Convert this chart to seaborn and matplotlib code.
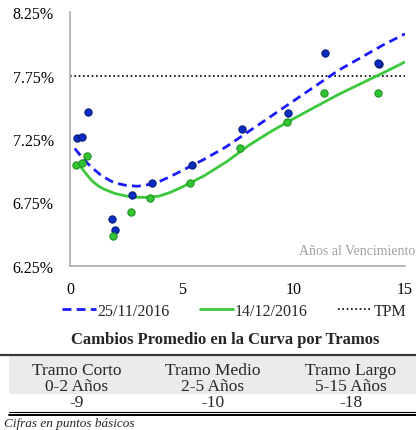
import matplotlib
matplotlib.use("Agg")
import matplotlib.pyplot as plt
import seaborn as sns
import pandas as pd
from matplotlib.lines import Line2D
from matplotlib.patches import Rectangle

# ---------------- data ----------------
pts_x_nov = [0.29, 0.54, 0.78, 1.88, 2.0, 2.78, 3.65, 5.47, 7.68, 9.77, 11.42, 13.84, 13.80]
pts_y_nov = [7.258, 7.263, 7.46, 6.616, 6.529, 6.808, 6.903, 7.042, 7.329, 7.453, 7.93, 7.844, 7.850]
pts_x_dec = [0.24, 0.51, 0.73, 1.93, 2.72, 3.59, 5.38, 7.61, 9.70, 11.39, 13.78]
pts_y_dec = [7.047, 7.061, 7.118, 6.487, 6.671, 6.784, 6.903, 7.177, 7.387, 7.61, 7.61]

curve_x_nov = [0.2, 0.5, 0.8, 1.0, 1.4, 1.75, 2.0, 2.5, 3.0, 3.5, 4.0, 4.5, 5.0, 5.5, 6.0,
               7.0, 8.0, 9.0, 10.0, 11.0, 12.0, 13.0, 14.0, 15.0]
curve_y_nov = [7.175, 7.11, 7.053, 7.02, 6.96, 6.925, 6.903, 6.884, 6.877, 6.89, 6.915, 6.955,
               7.0, 7.045, 7.09, 7.19, 7.31, 7.43, 7.55, 7.67, 7.79, 7.89, 7.99, 8.08]
curve_x_dec = [0.4, 0.6, 0.8, 1.0, 1.25, 1.5, 2.0, 2.5, 3.0, 3.5, 4.0, 4.5, 5.0, 5.5, 6.0,
               7.0, 8.0, 9.0, 10.0, 11.0, 12.0, 13.0, 14.0, 15.0]
curve_y_dec = [7.045, 7.0, 6.955, 6.915, 6.88, 6.855, 6.82, 6.80, 6.79, 6.789, 6.80, 6.83,
               6.87, 6.915, 6.96, 7.07, 7.2, 7.31, 7.41, 7.505, 7.6, 7.685, 7.77, 7.858]
tpm = 7.75

series_labels = ["25/11/2016", "14/12/2016", "TPM"]
y_ticks = [6.25, 6.75, 7.25, 7.75, 8.25]
x_ticks = [0, 5, 10, 15]
axis_note = "Años al Vencimiento"

table_title = "Cambios Promedio en la Curva por Tramos"
table_head1 = ["Tramo Corto", "Tramo Medio", "Tramo Largo"]
table_head2 = ["0-2 Años", "2-5 Años", "5-15 Años"]
table_vals = ["-9", "-10", "-18"]
footnote = "Cifras en puntos básicos"

# ---------------- style ----------------
sns.set_style("white")
plt.rcParams['font.family'] = ['Liberation Serif', 'DejaVu Serif']

BLUE_LINE = "#1a1aff"
GREEN_LINE = "#3cc83c"
BLUE_PT = "#0a2cc0"
GREEN_PT = "#33c433"
GRAY = "#a6a6a6"

fig = plt.figure(figsize=(4.16, 4.31), dpi=100)
ax = fig.add_axes([70.3 / 416, 1 - 266.7 / 431, (405 - 70.3) / 416, (266.7 - 13.3) / 431])

df_nov = pd.DataFrame({"x": curve_x_nov, "y": curve_y_nov})
df_dec = pd.DataFrame({"x": curve_x_dec, "y": curve_y_dec})
sns.lineplot(data=df_nov, x="x", y="y", ax=ax, color=BLUE_LINE, lw=2.0,
             linestyle=(0, (3.2, 1.9)), zorder=3)
sns.lineplot(data=df_dec, x="x", y="y", ax=ax, color=GREEN_LINE, lw=2.0, zorder=3)
ax.axhline(tpm, color="black", lw=1.2, linestyle=(0, (1, 1.6)), zorder=2)

sns.scatterplot(x=pts_x_nov, y=pts_y_nov, ax=ax, color=BLUE_PT, edgecolor="#001a70",
                linewidth=0.7, s=28, zorder=4)
sns.scatterplot(x=pts_x_dec, y=pts_y_dec, ax=ax, color=GREEN_PT, edgecolor="#1a8a1a",
                linewidth=0.7, s=28, zorder=4)

ax.set_xlim(0, 15)
ax.set_ylim(6.25, 8.25)
ax.set_xticks(x_ticks)
ax.set_xticklabels([str(t) for t in x_ticks])
ax.set_yticks(y_ticks)
ax.set_yticklabels([f"{t:.2f}%" for t in y_ticks])
ax.set_xlabel("")
ax.set_ylabel("")
for s in ["top", "right"]:
    ax.spines[s].set_visible(False)
for s in ["left", "bottom"]:
    ax.spines[s].set_color(GRAY)
    ax.spines[s].set_linewidth(1.1)
ax.tick_params(axis="both", which="major", direction="out", length=4, width=1.1,
               color=GRAY, labelsize=11.5, labelcolor="black")
ax.tick_params(axis="y", pad=8)
ax.tick_params(axis="x", pad=7)

ax.text(415 / 416, 1 - 252 / 431, axis_note, transform=fig.transFigure, ha="right",
        va="center", color="#a0a0a0", fontsize=10)

# legend
handles = [
    Line2D([], [], color=BLUE_LINE, lw=2.0, linestyle=(0, (3.2, 1.9))),
    Line2D([], [], color=GREEN_LINE, lw=2.0),
    Line2D([], [], color="black", lw=1.2, linestyle=(0, (1, 1.6))),
]
fig.legend(handles, series_labels, loc="center", bbox_to_anchor=(234 / 416, 1 - 312 / 431),
           ncol=3, frameon=False, fontsize=11.5, handlelength=2.1, handletextpad=0.1,
           columnspacing=1.9, borderaxespad=0)

# table
fig.text(225 / 416, 1 - 340 / 431, table_title, ha="center", va="center",
         fontsize=12, fontweight="bold")
fig.add_artist(Rectangle((9 / 416, 1 - 395 / 431), 407 / 416, 38 / 431,
                         transform=fig.transFigure, facecolor="#ebebeb", edgecolor="none"))
fig.add_artist(Line2D([0, 1], [1 - 356 / 431, 1 - 356 / 431], transform=fig.transFigure,
                      color="#3a3a3a", lw=1.6))
fig.add_artist(Line2D([9 / 416, 1], [1 - 413.3 / 431, 1 - 413.3 / 431],
                      transform=fig.transFigure, color="black", lw=0.8))
fig.add_artist(Line2D([9 / 416, 1], [1 - 416 / 431, 1 - 416 / 431],
                      transform=fig.transFigure, color="black", lw=1.4))
col_x = [77, 213, 351]
for cx, h1, h2, v in zip(col_x, table_head1, table_head2, table_vals):
    fig.text(cx / 416, 1 - 371 / 431, h1, ha="center", va="center", fontsize=12.5)
    fig.text(cx / 416, 1 - 387 / 431, h2, ha="center", va="center", fontsize=12.5)
    fig.text(cx / 416, 1 - 403.5 / 431, v, ha="center", va="center", fontsize=12.5)
fig.text(4 / 416, 1 - 424 / 431, footnote, ha="left", va="center", fontsize=9.5,
         style="italic")

fig.savefig("out.png", dpi=100)
